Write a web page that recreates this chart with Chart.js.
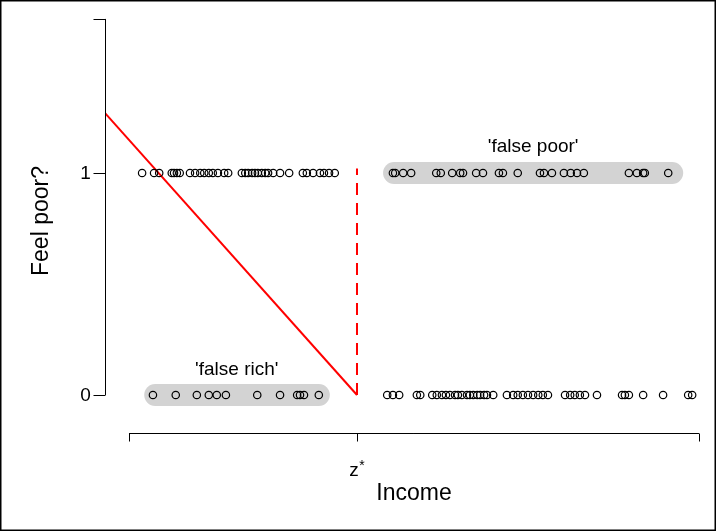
<!DOCTYPE html>
<html>
<head>
<meta charset="utf-8">
<script src="https://cdn.jsdelivr.net/npm/chart.js@4"></script>
<style>
  body { margin: 0; background: #fff; }
  canvas { display: block; }
</style>
</head>
<body>
<canvas id="chart" width="716" height="531"></canvas>
<script>
// income (0 = axis start, 1 = axis end), threshold z* at 0.4
const zStar = 0.4;
const incomeFeelPoor = [0.023, 0.044, 0.053, 0.075, 0.079, 0.084, 0.089, 0.107, 0.116, 0.125, 0.132, 0.140, 0.147, 0.156, 0.167, 0.174,
  0.198, 0.204, 0.209, 0.216, 0.221, 0.226, 0.233, 0.239, 0.244, 0.253, 0.265, 0.281, 0.305, 0.312, 0.323, 0.335, 0.342, 0.351, 0.361,
  0.463, 0.467, 0.481, 0.495, 0.539, 0.547, 0.567, 0.581, 0.586, 0.609, 0.621, 0.649, 0.656, 0.682, 0.721, 0.728, 0.742,
  0.763, 0.775, 0.786, 0.798, 0.877, 0.891, 0.902, 0.905, 0.946];
const incomeNotPoor = [0.042, 0.082, 0.119, 0.140, 0.154, 0.170, 0.225, 0.265, 0.295, 0.300, 0.307, 0.333,
  0.453, 0.463, 0.474, 0.505, 0.511, 0.532, 0.540, 0.549, 0.556, 0.563, 0.572, 0.577, 0.584, 0.593, 0.598, 0.604, 0.611,
  0.616, 0.623, 0.628, 0.639, 0.663, 0.674, 0.682, 0.691, 0.700, 0.709, 0.718, 0.726, 0.735, 0.765, 0.774, 0.782, 0.791,
  0.800, 0.821, 0.865, 0.870, 0.877, 0.902, 0.937, 0.981, 0.988];
const lineStart = [-0.042, 1.27];   // red line from left edge down to (z*, 0)
const dashTop = 1.02;
const falseRichBand = [0.046, 0.333];
const falsePoorBand = [0.465, 0.953];
const xTicks = [0, zStar, 1];
const xTickLabels = ["", "z", ""];
const yTicks = [0, 1, 1.694];
const yTickLabels = ["0", "1", ""];
const notes = [
  { text: "'false poor'", x: 0.709, y: 1.117 },
  { text: "'false rich'", x: 0.189, y: 0.113 }
];
const xAxisAt = -0.171;

const FONT = "'Liberation Sans', Arial, sans-serif";

const axesPlugin = {
  id: "rAxes",
  afterDatasetsDraw(chart) {
    const ctx = chart.ctx;
    const xs = chart.scales.x, ys = chart.scales.y;
    ctx.save();
    ctx.strokeStyle = "#000";
    ctx.lineWidth = 1;
    ctx.fillStyle = "#000";

    // y axis
    const yx = Math.round(xs.getPixelForValue(xs.min)) + 0.5;
    ctx.beginPath();
    ctx.moveTo(yx, ys.getPixelForValue(yTicks[0]));
    ctx.lineTo(yx, ys.getPixelForValue(yTicks[yTicks.length - 1]));
    yTicks.forEach(v => {
      const py = Math.round(ys.getPixelForValue(v)) + 0.5;
      ctx.moveTo(yx, py);
      ctx.lineTo(yx - 12, py);
    });
    ctx.stroke();
    ctx.font = "19px " + FONT;
    ctx.textAlign = "center";
    ctx.textBaseline = "middle";
    yTicks.forEach((v, i) => {
      ctx.fillText(yTickLabels[i], yx - 20, ys.getPixelForValue(v) + 1);
    });

    // x axis
    const xy = Math.round(ys.getPixelForValue(xAxisAt)) + 0.5;
    ctx.beginPath();
    ctx.moveTo(xs.getPixelForValue(xTicks[0]), xy);
    ctx.lineTo(xs.getPixelForValue(xTicks[xTicks.length - 1]), xy);
    xTicks.forEach(v => {
      const px = Math.round(xs.getPixelForValue(v)) + 0.5;
      ctx.moveTo(px, xy);
      ctx.lineTo(px, xy + 8);
    });
    ctx.stroke();
    ctx.textBaseline = "alphabetic";
    xTicks.forEach((v, i) => {
      if (!xTickLabels[i]) return;
      const px = xs.getPixelForValue(v);
      ctx.font = "19px " + FONT;
      ctx.fillText(xTickLabels[i], px - 3, xy + 42);
      ctx.font = "14px " + FONT;
      ctx.fillText("*", px + 5, xy + 36);   // superscript star of z*
    });

    // notes
    ctx.font = "19px " + FONT;
    ctx.textBaseline = "middle";
    notes.forEach(n => ctx.fillText(n.text, xs.getPixelForValue(n.x), ys.getPixelForValue(n.y)));

    // axis titles
    ctx.font = "23px " + FONT;
    ctx.fillText("Income", 414, 494);
    ctx.translate(42, 221);
    ctx.rotate(-Math.PI / 2);
    ctx.fillText("Feel poor?", 0, 0);
    ctx.restore();

    // outer frame
    ctx.save();
    ctx.strokeStyle = "#000";
    ctx.lineWidth = 1.5;
    ctx.strokeRect(0.75, 0.75, chart.width - 1.5, chart.height - 1.5);
    ctx.restore();
  }
};

const pts = (xs, y) => xs.map(x => ({ x: x, y: y }));
const band = (b, y) => [{ x: b[0], y: y }, { x: b[1], y: y }];

new Chart(document.getElementById("chart"), {
  type: "scatter",
  data: {
    datasets: [
      { type: "line", data: band(falseRichBand, 0), borderColor: "#d3d3d3", borderWidth: 22,
        borderCapStyle: "round", pointRadius: 0, order: 5 },
      { type: "line", data: band(falsePoorBand, 1), borderColor: "#d3d3d3", borderWidth: 22,
        borderCapStyle: "round", pointRadius: 0, order: 5 },
      { type: "line", data: [{ x: lineStart[0], y: lineStart[1] }, { x: zStar, y: 0 }],
        borderColor: "#ff0000", borderWidth: 2, pointRadius: 0, order: 3 },
      { type: "line", data: [{ x: zStar, y: 0 }, { x: zStar, y: dashTop }],
        borderColor: "#ff0000", borderWidth: 2, borderDash: [12, 8], pointRadius: 0, order: 3 },
      { data: pts(incomeFeelPoor, 1), pointStyle: "circle", pointRadius: 3.7, borderColor: "#000",
        backgroundColor: "rgba(0,0,0,0)", borderWidth: 1.2, order: 1 },
      { data: pts(incomeNotPoor, 0), pointStyle: "circle", pointRadius: 3.7, borderColor: "#000",
        backgroundColor: "rgba(0,0,0,0)", borderWidth: 1.2, order: 1 }
    ]
  },
  options: {
    responsive: false,
    animation: false,
    layout: { padding: { left: 105, right: 6, top: 13, bottom: 118 } },
    plugins: { legend: { display: false }, tooltip: { enabled: false } },
    scales: {
      x: { type: "linear", display: false, min: -0.0421, max: 1.0193 },
      y: { type: "linear", display: false, min: -0.0811, max: 1.7207 }
    }
  },
  plugins: [axesPlugin]
});
</script>
</body>
</html>
